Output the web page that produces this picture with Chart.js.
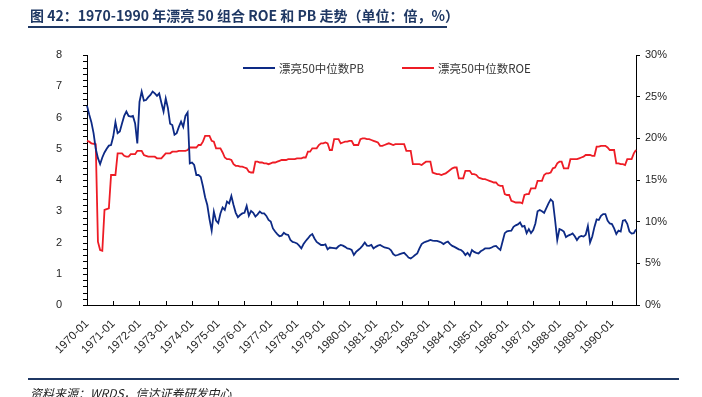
<!DOCTYPE html>
<html>
<head>
<meta charset="utf-8">
<script src="https://cdn.jsdelivr.net/npm/chart.js@4.4.1/dist/chart.umd.min.js"></script>
<style>
  body { margin: 0; background: #fff; width: 702px; height: 397px; overflow: hidden; position: relative;
         font-family: "Noto Sans CJK SC", "Noto Sans", sans-serif; }
  #chart { position: absolute; left: 0; top: 0; }
  #title { position: absolute; left: 30px; top: 5px; font-size: 14px; font-weight: bold; color: #1f3864; white-space: nowrap; }
  #titleLine { position: absolute; left: 28px; top: 26px; width: 419px; height: 2px; background: #1f3864; }
  #footLine { position: absolute; left: 28px; top: 378px; width: 651px; height: 2px; background: #1f3864; }
  #source { position: absolute; left: 30px; top: 384px; font-size: 12px; font-style: italic; color: #222; white-space: nowrap; }
  .lg { position: absolute; top: 60px; font-size: 11.5px; color: #333; white-space: nowrap; display: flex; align-items: center; }
  .lg span { display: inline-block; width: 32px; height: 2px; margin-right: 4px; }
</style>
</head>
<body>
<canvas id="chart" width="702" height="397"></canvas>
<div id="title">图 42：1970-1990 年漂亮 50 组合 ROE 和 PB 走势（单位：倍，%）</div>
<div id="titleLine"></div>
<div class="lg" style="left:243px"><span style="background:#0d2a85"></span>漂亮50中位数PB</div>
<div class="lg" style="left:402px"><span style="background:#ee1c25"></span>漂亮50中位数ROE</div>
<div id="footLine"></div>
<div id="source">资料来源：WRDS，信达证券研发中心</div>
<script>
// 1970-01 ... 1990-12, monthly
const years = [];
for (let y = 1970; y <= 1990; y++) years.push(y);
const months = ["01","02","03","04","05","06","07","08","09","10","11","12"];
const labels = [];
years.forEach(y => months.forEach(m => labels.push(y + "-" + m)));

// 漂亮50中位数PB (倍), one row per year
const pbValues = [
  6.38, 6.10, 5.85, 5.50, 5.00, 4.70, 4.51, 4.72, 4.88, 5.00, 5.10, 5.12,
  5.39, 5.85, 5.50, 5.55, 5.81, 6.05, 6.19, 6.05, 6.03, 6.05, 5.81, 5.17,
  6.50, 6.83, 6.54, 6.56, 6.65, 6.72, 6.83, 6.77, 6.69, 6.77, 6.47, 6.19,
  6.61, 6.30, 5.80, 5.76, 5.45, 5.50, 5.70, 5.87, 5.70, 6.05, 6.16, 4.53,
  4.56, 4.48, 4.16, 4.16, 4.10, 3.80, 3.45, 3.20, 2.75, 2.38, 2.99, 2.70,
  2.62, 2.93, 3.12, 3.04, 3.31, 3.25, 3.49, 3.20, 2.95, 2.81, 2.88, 2.93,
  2.95, 3.17, 2.86, 3.01, 2.95, 2.83, 2.90, 2.99, 2.93, 2.93, 2.85, 2.72,
  2.67, 2.45, 2.35, 2.27, 2.20, 2.22, 2.31, 2.26, 2.24, 2.08, 2.02, 2.00,
  1.97, 1.90, 1.81, 1.95, 2.05, 2.13, 2.22, 2.27, 2.13, 2.02, 1.97, 1.92,
  1.92, 1.94, 1.78, 1.84, 1.83, 1.82, 1.81, 1.88, 1.92, 1.90, 1.86, 1.81,
  1.80, 1.76, 1.60, 1.70, 1.76, 1.82, 1.90, 2.00, 1.90, 1.89, 1.92, 1.81,
  1.86, 1.90, 1.92, 1.88, 1.84, 1.83, 1.81, 1.75, 1.63, 1.58, 1.60, 1.63,
  1.65, 1.67, 1.60, 1.52, 1.49, 1.54, 1.60, 1.65, 1.81, 1.95, 2.00, 2.03,
  2.05, 2.08, 2.06, 2.05, 2.05, 2.03, 2.00, 1.95, 2.00, 2.03, 1.95, 1.89,
  1.86, 1.82, 1.78, 1.76, 1.70, 1.60, 1.67, 1.57, 1.76, 1.70, 1.67, 1.65,
  1.72, 1.76, 1.81, 1.81, 1.81, 1.84, 1.88, 1.89, 1.82, 1.76, 2.03, 2.30,
  2.36, 2.37, 2.38, 2.50, 2.55, 2.58, 2.64, 2.51, 2.53, 2.30, 2.43, 2.30,
  2.40, 2.61, 3.00, 3.04, 3.00, 2.95, 3.10, 3.25, 3.38, 3.31, 2.72, 2.08,
  2.43, 2.40, 2.35, 2.17, 2.22, 2.25, 2.29, 2.20, 2.08, 2.18, 2.21, 2.19,
  2.25, 2.53, 2.00, 2.19, 2.50, 2.74, 2.72, 2.85, 2.91, 2.91, 2.70, 2.61,
  2.59, 2.45, 2.27, 2.38, 2.35, 2.70, 2.72, 2.60, 2.35, 2.29, 2.30, 2.42
];

// 漂亮50中位数ROE (%), one row per year
const roeValues = [
  19.7, 19.6, 19.4, 19.35, 19.3, 7.6, 6.6, 6.5, 11.4, 11.5, 11.6, 15.6,
  15.6, 15.6, 18.2, 18.2, 18.2, 17.9, 17.8, 17.8, 18.1, 18.1, 18.1, 18.5,
  18.5, 18.5, 18.0, 17.9, 17.8, 17.8, 17.8, 17.8, 17.6, 17.6, 17.6, 17.9,
  18.2, 18.2, 18.2, 18.4, 18.4, 18.4, 18.5, 18.5, 18.5, 18.5, 18.6, 18.9,
  18.9, 18.9, 18.9, 19.2, 19.2, 19.6, 20.3, 20.3, 20.3, 19.7, 19.6, 18.8,
  18.8, 18.8, 18.3, 17.7, 17.5, 17.5, 17.4, 16.9, 16.7, 16.7, 16.6, 16.6,
  16.5, 16.4, 16.0, 15.9, 15.9, 17.2, 17.2, 17.1, 17.1, 17.0, 17.0, 16.9,
  17.0, 17.1, 17.1, 17.2, 17.3, 17.4, 17.4, 17.4, 17.5, 17.5, 17.5, 17.5,
  17.6, 17.6, 17.6, 17.7, 17.7, 18.4, 18.4, 18.8, 18.8, 18.8, 19.2, 19.4,
  19.4, 19.5, 19.4, 18.6, 18.6, 19.9, 19.9, 19.9, 19.4, 19.5, 19.6, 19.6,
  19.7, 19.7, 19.2, 19.2, 19.2, 19.9, 20.0, 20.0, 19.9, 19.9, 19.8, 19.7,
  19.6, 19.5, 19.1, 19.1, 19.2, 19.3, 19.4, 19.3, 19.2, 19.3, 19.3, 19.3,
  19.3, 19.3, 18.5, 18.5, 18.5, 16.9, 16.9, 16.9, 16.9, 16.8, 17.0, 17.2,
  17.2, 17.2, 15.9, 15.8, 15.7, 15.7, 15.6, 15.7, 15.8, 16.0, 16.2, 16.4,
  16.5, 16.5, 15.2, 15.2, 15.2, 16.1, 16.1, 16.1, 15.7, 15.7, 15.6, 15.3,
  15.2, 15.1, 15.1, 15.0, 14.9, 14.8, 14.7, 14.7, 14.4, 14.3, 14.3, 13.3,
  13.2, 13.2, 12.5, 12.4, 12.3, 12.3, 12.3, 12.2, 13.2, 13.3, 13.3, 14.0,
  14.0, 14.0, 14.9, 14.9, 14.9, 15.6, 15.8, 15.8, 15.9, 16.4, 16.5, 17.0,
  17.2, 17.2, 16.4, 16.4, 16.4, 17.5, 17.5, 17.5, 17.5, 17.6, 17.7, 17.8,
  18.0, 18.0, 18.0, 17.9, 17.9, 19.0, 19.0, 19.1, 19.1, 19.1, 18.9, 18.6,
  18.6, 18.6, 17.0, 17.0, 16.9, 16.9, 16.8, 17.5, 17.5, 17.5, 18.2, 18.6
];

const textColor = "#262626";
const tickFont = { family: "Liberation Sans, Arial, sans-serif", size: 11 };

// x axis tick marks point up into the plot, left axis gets small minor ticks
const innerTicks = {
  id: "innerTicks",
  afterDraw(chart) {
    const { ctx, chartArea } = chart;
    const x = chart.scales.x;
    const y = chart.scales.y;
    ctx.save();
    ctx.strokeStyle = "#000";
    ctx.lineWidth = 1;
    ctx.beginPath();
    for (let i = 0; i < labels.length; i += 12) {
      const px = Math.round(x.getPixelForValue(i)) + 0.5;
      ctx.moveTo(px, chartArea.bottom);
      ctx.lineTo(px, chartArea.bottom - 4);
    }
    for (let v = 0; v <= 40; v++) {
      const py = Math.round(y.getPixelForValue(v / 5)) + 0.5;
      ctx.moveTo(chartArea.left - 4, py);
      ctx.lineTo(chartArea.left, py);
    }
    ctx.stroke();
    ctx.restore();
  }
};

new Chart(document.getElementById("chart"), {
  type: "line",
  data: {
    labels: labels,
    datasets: [
      { label: "漂亮50中位数PB", data: pbValues, yAxisID: "y",
        borderColor: "#0d2a85", borderWidth: 1.8, pointRadius: 0, tension: 0 },
      { label: "漂亮50中位数ROE", data: roeValues, yAxisID: "y2",
        borderColor: "#ee1c25", borderWidth: 1.8, pointRadius: 0, tension: 0 }
    ]
  },
  options: {
    responsive: false,
    devicePixelRatio: 1,
    animation: false,
    layout: { padding: { top: 55, left: 0, right: 0, bottom: 0 } },
    plugins: { legend: { display: false }, tooltip: { enabled: false } },
    scales: {
      x: {
        afterFit(s) { s.height = 92; },
        grid: { display: false },
        border: { color: "#000", width: 1 },
        ticks: {
          autoSkip: false, minRotation: 45, maxRotation: 45, padding: 4,
          color: textColor, font: { family: "Liberation Sans, Arial, sans-serif", size: 11.5 },
          callback: (v, i) => (i % 12 === 0 ? labels[i] : "")
        }
      },
      y: {
        position: "left", min: 0, max: 8,
        afterFit(s) { s.width = 87; },
        grid: { display: false },
        border: { color: "#000", width: 1 },
        ticks: { stepSize: 1, padding: 17, color: textColor, font: tickFont }
      },
      y2: {
        position: "right", min: 0, max: 30,
        afterFit(s) { s.width = 66; },
        grid: { drawOnChartArea: false, drawTicks: true, color: "#000", tickLength: 4 },
        border: { color: "#000", width: 1 },
        ticks: { stepSize: 5, padding: 5, color: textColor, font: tickFont, callback: v => v + "%" }
      }
    }
  },
  plugins: [innerTicks]
});
</script>
</body>
</html>
